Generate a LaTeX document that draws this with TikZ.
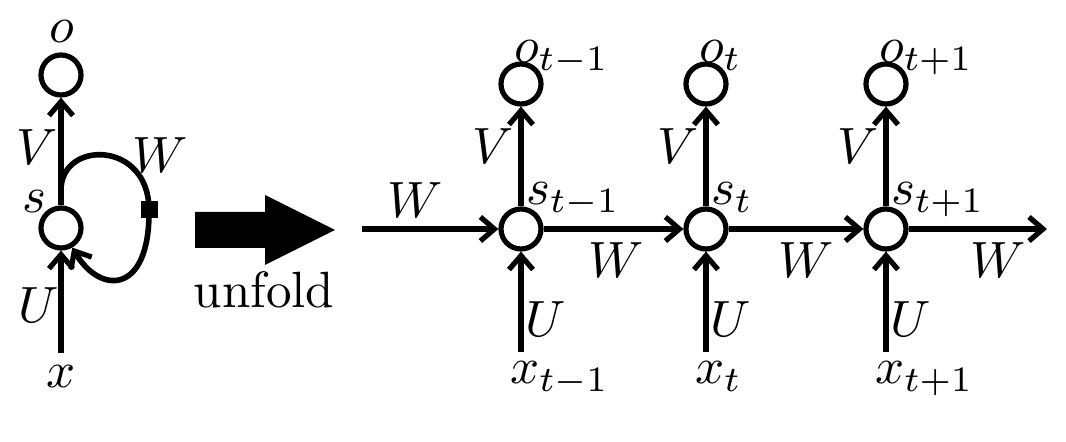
\documentclass[tikz,border=0pt]{standalone}
\usetikzlibrary{arrows.meta}
\tikzset{
  unit/.style={circle, draw, line width=2.6pt, minimum size=20pt, inner sep=0pt},
  wire/.style={line width=2.8pt, -{Straight Barb[length=7pt,width=12pt,line width=2.6pt]}},
  lbl/.style={inner sep=0pt, scale=2.55},
}
\begin{document}
\begin{tikzpicture}[x=0.5pt, y=-0.5pt]
  \useasboundingbox (0,0) rectangle (1066,442);

  % folded net
  \node[unit] (o) at (61,75) {};
  \node[unit] (s) at (61,228) {};
  \coordinate (x) at (61,353);
  \coordinate (br) at (61,190);
  \draw[wire] (x) -- (s);
  \draw[wire] (s) -- (o);
  \draw[wire] (br) .. controls (61,140) and (149,140) .. (149,210)
    .. controls (150,295) and (100,295) .. (s.-60);
  \node[fill, minimum size=8.5pt, inner sep=0pt] (gate) at (149,210) {};

  \node[lbl, anchor=base] (ol) at (62,43) {$o$};
  \node[lbl, anchor=base east] (vl) at (59,165) {$V$};
  \node[lbl, anchor=base west] (sl) at (21,213) {$s$};
  \node[lbl, anchor=base west] (wl) at (131,173) {$W$};
  \node[lbl, anchor=base west] (ul) at (17,323) {$U$};
  \node[lbl, anchor=base] (xl) at (61,388) {$x$};

  % unfold arrow
  \fill (195,212) -- (265,212) -- (265,195) -- (335,230) -- (265,265)
    -- (265,248) -- (195,248) -- cycle;
  \node[lbl, anchor=base] (unfold) at (264,308) {unfold};

  % unfolded net
  \coordinate (start) at (362,229);
  \coordinate (end) at (1047,229);
  \foreach \i/\cx/\sub/\wx in {1/521/t-1/587, 2/706/t/777, 3/886/t+1/969}
    {
      \node[unit] (s\i) at (\cx,229) {};
      \node[unit] (o\i) at (\cx,84) {};
      \coordinate (x\i) at (\cx,352);
      \draw[wire] (x\i) -- (s\i);
      \draw[wire] (s\i) -- (o\i);

      \node[lbl, anchor=base west] (ol\i) at (\cx-8,63) {$o_{\sub}$};
      \node[lbl, anchor=base east] (vl\i) at (\cx-6,164) {$V$};
      \node[lbl, anchor=base west] (sl\i) at (\cx+4,205) {$s_{\sub}$};
      \node[lbl, anchor=base west] (wl\i) at (\wx,278) {$W$};
      \node[lbl, anchor=base west] (ul\i) at (\cx+3,337) {$U$};
      \node[lbl, anchor=base west] (xl\i) at (\cx-12,384) {$x_{\sub}$};
    }
  \draw[wire] (start) -- (s1);
  \draw[wire] (s1) -- (s2);
  \draw[wire] (s2) -- (s3);
  \draw[wire] (s3) -- (end);
  \node[lbl, anchor=base west] (wl0) at (386,218) {$W$};
\end{tikzpicture}
\end{document}
